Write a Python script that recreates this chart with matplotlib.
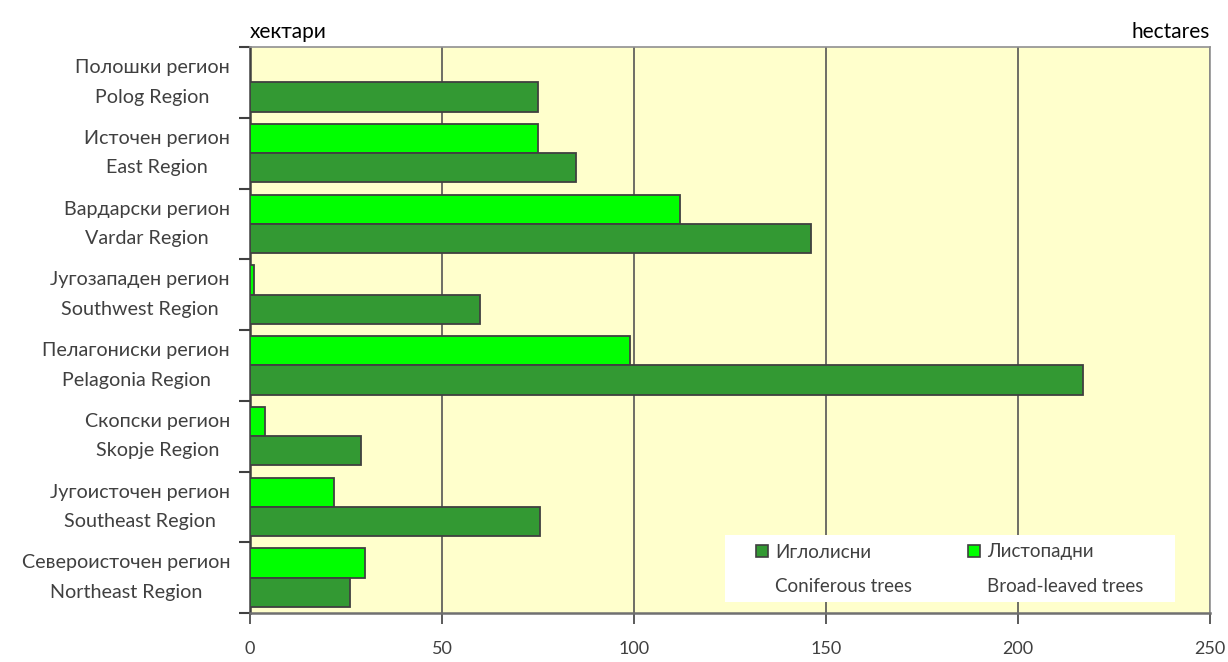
import matplotlib
matplotlib.use("Agg")
import matplotlib.pyplot as plt
from matplotlib.patches import Rectangle
import numpy as np

plt.rcParams['font.family'] = ['Lato', 'DejaVu Sans']

regions_mk = ["Полошки регион", "Источен регион", "Вардарски регион", "Југозападен регион",
              "Пелагониски регион", "Скопски регион", "Југоисточен регион", "Североисточен регион"]
regions_en = ["Polog Region", "East Region", "Vardar Region", "Southwest Region",
              "Pelagonia Region", "Skopje Region", "Southeast Region", "Northeast Region"]
coniferous = [75, 85, 146, 60, 217, 29, 75.5, 26]
broadleaved = [0, 75, 112, 1, 99, 4, 22, 30]
xticks = [0, 50, 100, 150, 200, 250]

series_mk = ["Иглолисни", "Листопадни"]
series_en = ["Coniferous trees", "Broad-leaved trees"]

C_CON = "#339933"
C_BRD = "#00FF00"
EDGE = "#404040"
TXT = "#404040"
BG = "#FFFFCC"

W, H = 1228, 662
fig = plt.figure(figsize=(W / 100, H / 100), dpi=100)
AX_L, AX_R, AX_T, AX_B = 250, 1210, 47, 613
ax = fig.add_axes([AX_L / W, 1 - AX_B / H, (AX_R - AX_L) / W, (AX_B - AX_T) / H])
ax.set_facecolor(BG)

n = len(regions_en)
pos = np.arange(n) + 0.5
bh = 0.415
ax.barh(pos - bh / 2, broadleaved, height=bh, color=C_BRD, edgecolor=EDGE, linewidth=1.3, zorder=3)
ax.barh(pos + bh / 2, coniferous, height=bh, color=C_CON, edgecolor=EDGE, linewidth=1.3, zorder=3)

ax.set_xlim(0, 250)
ax.set_ylim(n, 0)
ax.set_xticks(xticks)
ax.set_xticklabels([str(v) for v in xticks])
ax.xaxis.grid(True, color="#555555", linewidth=1.2, zorder=1)
ax.set_axisbelow(True)

ax.set_yticks([])
ax.set_yticks(np.arange(n + 1), minor=True)
ax.tick_params(axis="y", which="minor", length=8, width=1.5, color=EDGE, direction="out")
ax.tick_params(axis="x", which="major", length=8, width=1.2, color=EDGE, direction="out",
               pad=12, labelsize=13, labelcolor=TXT)

for s in ["top", "right"]:
    ax.spines[s].set_color("#909090")
    ax.spines[s].set_linewidth(1.2)
ax.spines["left"].set_color(EDGE)
ax.spines["left"].set_linewidth(1.8)
ax.spines["bottom"].set_color("#707070")
ax.spines["bottom"].set_linewidth(1.8)

def fx(px):
    return (px - AX_L) / (AX_R - AX_L)
def fy(py):
    return (AX_B - py) / (AX_B - AX_T)

# two-line category labels: each line aligned with its bar, pair centered, right edge fixed
LBL_SIZE = 14.2
renderer = fig.canvas.get_renderer()
label_right_px = 230
for i in range(n):
    t1 = ax.text(0, pos[i] - bh / 2, regions_mk[i], ha="center", va="center",
                 fontsize=LBL_SIZE, color=TXT, clip_on=False)
    t2 = ax.text(0, pos[i] + bh / 2, regions_en[i], ha="center", va="center",
                 fontsize=LBL_SIZE, color=TXT, clip_on=False)
    wmax = max(t1.get_window_extent(renderer).width, t2.get_window_extent(renderer).width)
    x_data = fx(label_right_px - wmax / 2) * 250
    t1.set_x(x_data)
    t2.set_x(x_data)

ax.text(0, fy(32), "хектари", transform=ax.transAxes, ha="left", va="center", fontsize=15, color="black")
ax.text(1, fy(32), "hectares", transform=ax.transAxes, ha="right", va="center", fontsize=15, color="black")

# legend box
ax.add_patch(Rectangle((fx(725), fy(602)), fx(1175) - fx(725), fy(535) - fy(602),
                       transform=ax.transAxes, facecolor="white", edgecolor="none", zorder=5))
for (mx, col, mk, en) in [(756, C_CON, series_mk[0], series_en[0]),
                          (968, C_BRD, series_mk[1], series_en[1])]:
    ax.add_patch(Rectangle((fx(mx), fy(557)), fx(768) - fx(756), fy(545) - fy(557),
                           transform=ax.transAxes, facecolor=col, edgecolor=EDGE,
                           linewidth=1.2, zorder=6))
    ax.text(fx(mx + 19), fy(552), mk, transform=ax.transAxes, ha="left", va="center",
            fontsize=13.5, color=TXT, zorder=7)
    ax.text(fx(mx + 19), fy(586), en, transform=ax.transAxes, ha="left", va="center",
            fontsize=13.5, color=TXT, zorder=7)

fig.savefig("out.png", dpi=100)
